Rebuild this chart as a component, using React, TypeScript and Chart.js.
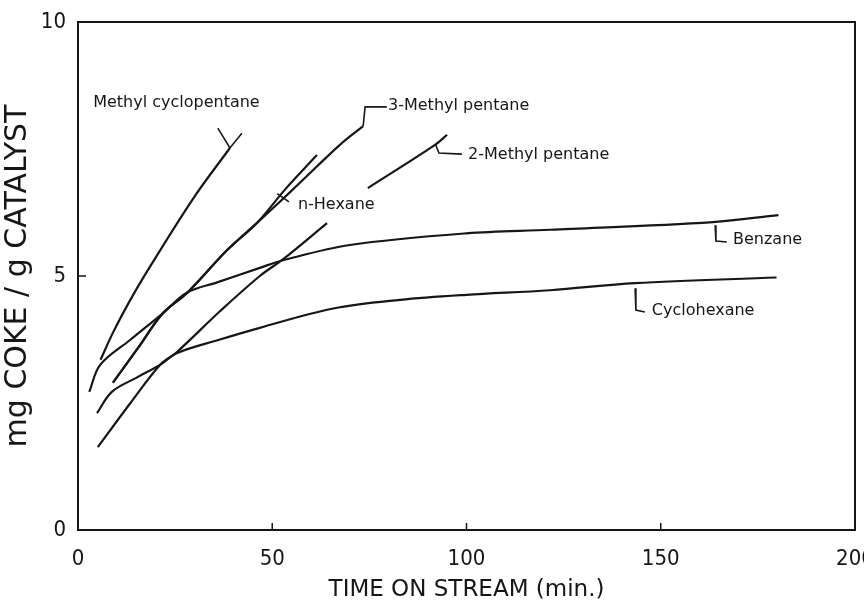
import React, { useEffect, useRef } from "react";
import { Chart, registerables } from "chart.js";

Chart.register(...registerables);

// ---- axis ----
const xMin = 0;
const xMax = 200;
const xStep = 50;
const yMin = 0;
const yMax = 10;
const yStep = 5;
const xTitle = "TIME ON STREAM (min.)";
const yTitle = "mg COKE / g CATALYST";

// ---- curves (time in min, coke in mg/g) ----
const mcpX = [5.8, 9.1, 13.4, 17.7, 29.6, 39.1];
const mcpY = [3.35, 3.9, 4.52, 5.08, 6.52, 7.52];

const mp3X = [9, 15.5, 21.9, 28, 38.4, 46, 55, 67.4, 73.4];
const mp3Y = [2.9, 3.59, 4.27, 4.66, 5.51, 6.04, 6.68, 7.58, 7.95];

const hexX = [9, 15.5, 21.9, 28, 38.4, 46, 53.5, 61.5];
const hexY = [2.9, 3.59, 4.27, 4.66, 5.51, 6.04, 6.72, 7.38];

const mp2X = [5.1, 13.4, 21.1, 25.4, 36.6, 46.8, 52.8, 64.1, 69, 74.6, 91.9, 95];
const mp2Y = [1.63, 2.49, 3.25, 3.5, 4.31, 5.0, 5.33, 6.04, null, 6.73, 7.58, 7.78];

const benzX = [2.9, 5.7, 13.4, 21.9, 28, 36, 46.8, 52.8, 70, 100, 121.5, 163.4, 180.3];
const benzY = [2.72, 3.25, 3.74, 4.27, 4.67, 4.88, 5.16, 5.31, 5.61, 5.84, 5.91, 6.06, 6.2];

const cyhexX = [4.9, 8.7, 15.1, 21.1, 25.4, 36.1, 46.8, 65.7, 82.9, 100, 121.5, 143.4, 179.8];
const cyhexY = [2.3, 2.72, 3.0, 3.25, 3.48, 3.74, 3.98, 4.36, 4.53, 4.63, 4.72, 4.86, 4.97];

// ---- leader marks (data units) ----
const mcpLeadX = [36.0, 39.1, 42.2];
const mcpLeadY = [7.91, 7.52, 7.81];
const mp3LeadX = [73.4, 73.9, 79.5];
const mp3LeadY = [7.95, 8.33, 8.33];
const mp2LeadX = [92.1, 92.9, 98.8];
const mp2LeadY = [7.58, 7.42, 7.4];
const hexLeadX = [51.3, 54.3];
const hexLeadY = [6.62, 6.46];
const benzLeadX = [164, 164.2, 167];
const benzLeadY = [6.0, 5.69, 5.67];
const cyhexLeadX = [143.4, 143.6, 145.9];
const cyhexLeadY = [4.76, 4.33, 4.29];

// ---- curve labels ----
const labelNames = ["Methyl cyclopentane", "3-Methyl pentane", "2-Methyl pentane", "n-Hexane", "Benzane", "Cyclohexane"];
const labelX = [3.9, 79.8, 100.4, 56.6, 168.6, 147.7];
const labelY = [8.41, 8.35, 7.38, 6.4, 5.71, 4.31];

const INK = "#161616";

const pts = (xs: number[], ys: (number | null)[]) => xs.map((x, i) => ({ x, y: ys[i] }));

const curve = (label: string, xs: number[], ys: (number | null)[]) => ({
  label,
  data: pts(xs, ys),
  borderColor: INK,
  borderWidth: 2.2,
  pointRadius: 0,
  tension: 0.35,
  fill: false,
  spanGaps: false,
});

const leader = (label: string, xs: number[], ys: number[]) => ({
  label,
  data: pts(xs, ys),
  borderColor: INK,
  borderWidth: 1.6,
  pointRadius: 0,
  tension: 0,
  fill: false,
});

const framePlugin = {
  id: "frame",
  afterDatasetsDraw(chart: any) {
    const { ctx, chartArea: a, scales } = chart;
    ctx.save();
    ctx.strokeStyle = INK;
    ctx.lineWidth = 2;
    ctx.strokeRect(a.left, a.top, a.right - a.left, a.bottom - a.top);
    ctx.lineWidth = 1.5;
    scales.x.ticks.forEach((t: any) => {
      if (t.value <= xMin || t.value >= xMax) return;
      const px = scales.x.getPixelForValue(t.value);
      ctx.beginPath();
      ctx.moveTo(px, a.bottom);
      ctx.lineTo(px, a.bottom - 7);
      ctx.stroke();
    });
    scales.y.ticks.forEach((t: any) => {
      if (t.value <= yMin || t.value >= yMax) return;
      const py = scales.y.getPixelForValue(t.value);
      ctx.beginPath();
      ctx.moveTo(a.left, py);
      ctx.lineTo(a.left + 8, py);
      ctx.stroke();
    });
    ctx.fillStyle = INK;
    ctx.font = '16px "DejaVu Sans", sans-serif';
    ctx.textBaseline = "middle";
    ctx.textAlign = "left";
    labelNames.forEach((name, i) => {
      ctx.fillText(name, scales.x.getPixelForValue(labelX[i]), scales.y.getPixelForValue(labelY[i]));
    });
    ctx.restore();
  },
};

const tickFont = { family: "'DejaVu Sans Condensed', 'DejaVu Sans', sans-serif", size: 22 };

export default function App() {
  const ref = useRef<HTMLCanvasElement | null>(null);
  useEffect(() => {
    if (!ref.current) return;
    const chart = new Chart(ref.current, {
      type: "line",
      data: {
        datasets: [
          curve("Methyl cyclopentane", mcpX, mcpY),
          curve("3-Methyl pentane", mp3X, mp3Y),
          curve("n-Hexane", hexX, hexY),
          curve("2-Methyl pentane", mp2X, mp2Y),
          curve("Benzane", benzX, benzY),
          curve("Cyclohexane", cyhexX, cyhexY),
          leader("mcp leader", mcpLeadX, mcpLeadY),
          leader("3mp leader", mp3LeadX, mp3LeadY),
          leader("2mp leader", mp2LeadX, mp2LeadY),
          leader("hex leader", hexLeadX, hexLeadY),
          leader("benz leader", benzLeadX, benzLeadY),
          leader("cyhex leader", cyhexLeadX, cyhexLeadY),
        ] as any,
      },
      options: {
        animation: false,
        responsive: false,
        devicePixelRatio: 1,
        layout: { padding: { top: 22, right: 9, left: 0, bottom: 0 } },
        plugins: { legend: { display: false }, tooltip: { enabled: false }, title: { display: false } },
        scales: {
          x: {
            type: "linear",
            min: xMin,
            max: xMax,
            grid: { display: false },
            border: { display: false },
            ticks: { stepSize: xStep, color: INK, font: tickFont, padding: 8, maxRotation: 0 },
            title: {
              display: true,
              text: xTitle,
              color: INK,
              font: { family: "'DejaVu Sans', sans-serif", size: 23 },
              padding: { top: 0, bottom: 0 },
            },
            afterFit(scale: any) {
              scale.height = 74;
              scale.paddingLeft = 0;
              scale.paddingRight = 0;
            },
          },
          y: {
            type: "linear",
            min: yMin,
            max: yMax,
            grid: { display: false },
            border: { display: false },
            ticks: { stepSize: yStep, color: INK, font: tickFont, padding: 4 },
            title: {
              display: true,
              text: yTitle,
              color: INK,
              font: { family: "'DejaVu Sans', sans-serif", size: 30 },
              padding: { top: 0, bottom: 0 },
            },
            afterFit(scale: any) {
              scale.width = 78;
              scale.paddingTop = 0;
              scale.paddingBottom = 0;
            },
          },
        },
      } as any,
      plugins: [framePlugin],
    });
    return () => chart.destroy();
  }, []);
  return (
    <div style={{ position: "fixed", left: 0, top: 0, width: 864, height: 604, background: "#fff" }}>
      <canvas ref={ref} width={864} height={604} style={{ display: "block" }} />
    </div>
  );
}
